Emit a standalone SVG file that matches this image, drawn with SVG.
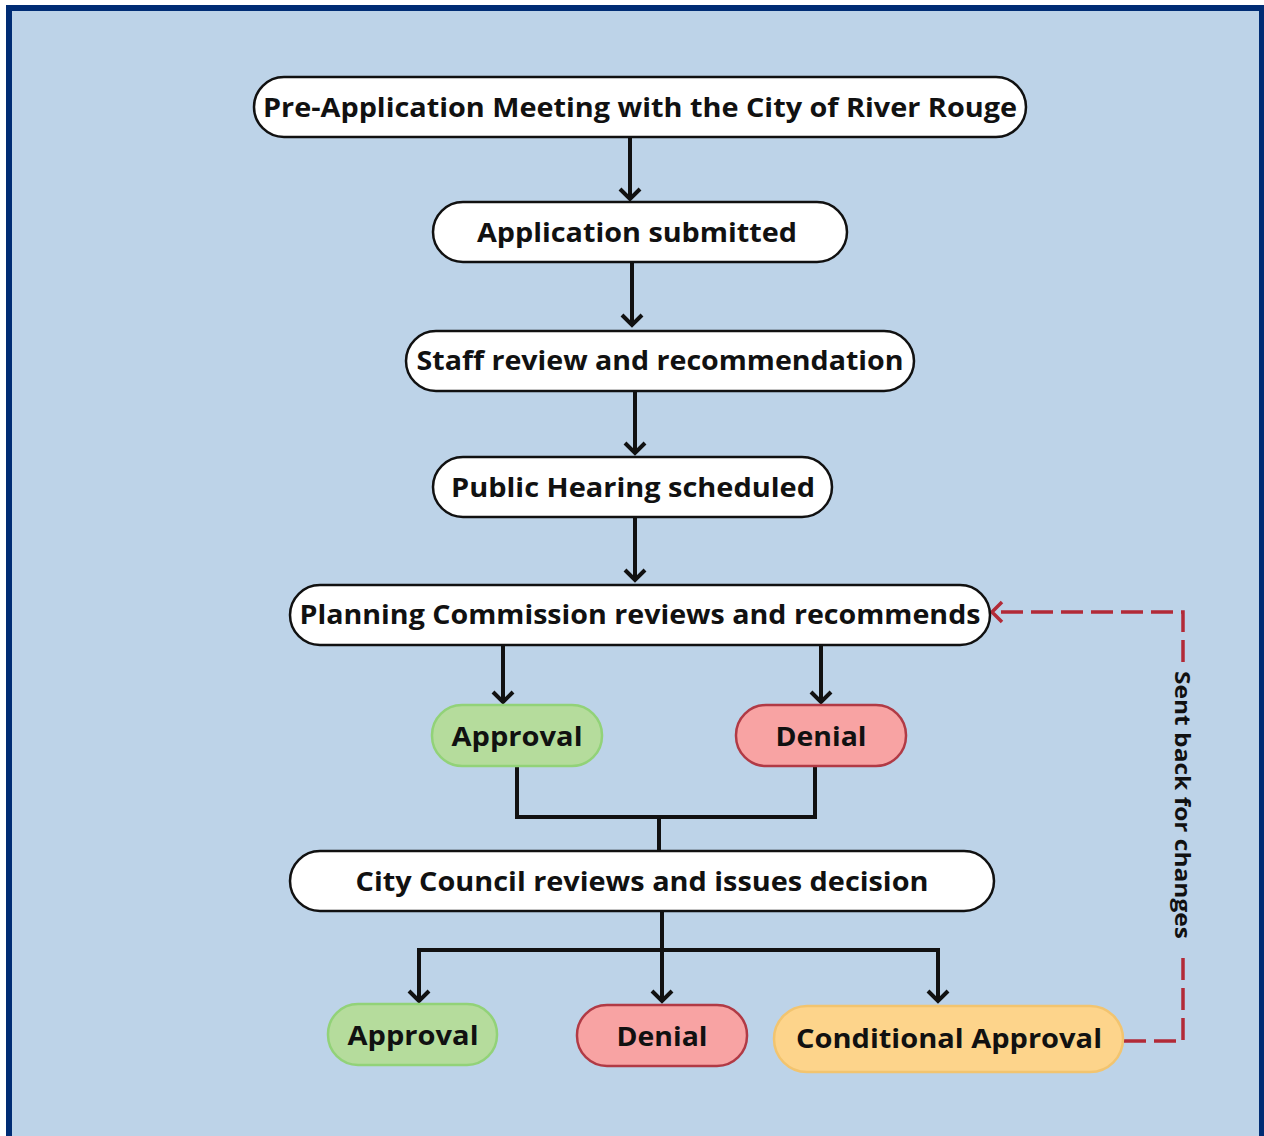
<svg xmlns="http://www.w3.org/2000/svg" width="1264" height="1136" viewBox="0 0 1264 1136">
  <style>
    .pill { fill: #ffffff; stroke: #111111; stroke-width: 2.5; }
    .ok { fill: #b5dc9c; stroke: #92d278; stroke-width: 2.5; }
    .no { fill: #f8a3a3; stroke: #b13a45; stroke-width: 2.5; }
    .cond { fill: #fdd48b; stroke: #f2c46f; stroke-width: 2.5; }
    .lbl { font-family: "Open Sans", "Liberation Sans", sans-serif; font-weight: 700; font-size: 27px; fill: #111111; text-anchor: middle; }
    .side { font-family: "Open Sans", "Liberation Sans", sans-serif; font-weight: 700; font-size: 22px; fill: #111111; text-anchor: middle; }
    .flow { fill: none; stroke: #111111; stroke-width: 4; }
    .back { fill: none; stroke: #b22a37; stroke-width: 3.5; stroke-dasharray: 22 8; }
  </style>
  <defs>
    <marker id="arrow" markerUnits="userSpaceOnUse" markerWidth="24" markerHeight="24" viewBox="0 0 24 24" refX="19" refY="12" orient="auto">
      <path d="M9,2 L19,12 L9,22" fill="none" stroke="#111111" stroke-width="4"/>
    </marker>
    <marker id="arrowRed" markerUnits="userSpaceOnUse" markerWidth="24" markerHeight="24" viewBox="0 0 24 24" refX="19" refY="12" orient="auto">
      <path d="M9,2 L19,12 L9,22" fill="none" stroke="#b22a37" stroke-width="3.5"/>
    </marker>
  </defs>

  <!-- page and frame -->
  <rect x="0" y="0" width="1264" height="1136" fill="#ffffff"/>
  <rect x="6" y="5" width="1258" height="1131" fill="#002c74"/>
  <rect x="12" y="11" width="1247" height="1125" fill="#bdd3e8"/>

  <!-- connectors -->
  <g id="connectors">
    <line class="flow" x1="630" y1="138" x2="630" y2="199" marker-end="url(#arrow)"/>
    <line class="flow" x1="632" y1="263" x2="632" y2="325" marker-end="url(#arrow)"/>
    <line class="flow" x1="635" y1="392" x2="635" y2="453" marker-end="url(#arrow)"/>
    <line class="flow" x1="635" y1="518" x2="635" y2="580" marker-end="url(#arrow)"/>
    <line class="flow" x1="503" y1="646" x2="503" y2="702" marker-end="url(#arrow)"/>
    <line class="flow" x1="821" y1="646" x2="821" y2="702" marker-end="url(#arrow)"/>
    <path class="flow" d="M517,767 V817 H815 V767"/>
    <line class="flow" x1="659" y1="817" x2="659" y2="851"/>
    <line class="flow" x1="662" y1="912" x2="662" y2="1001" marker-end="url(#arrow)"/>
    <path class="flow" d="M419,950 H938 V1001" marker-end="url(#arrow)"/>
    <line class="flow" x1="419" y1="948" x2="419" y2="1001" marker-end="url(#arrow)"/>
    <path class="back" d="M1124,1041 H1183 V952"/>
    <path class="back" d="M1183,662 V612 H992" marker-end="url(#arrowRed)"/>
    <text class="side" transform="translate(1175,805) rotate(90)" textLength="268" lengthAdjust="spacingAndGlyphs">Sent back for changes</text>
  </g>

  <g id="pre-application">
    <rect class="pill" x="254" y="77" width="772" height="60" rx="30"/>
    <text class="lbl" x="640" y="117" textLength="754" lengthAdjust="spacingAndGlyphs">Pre-Application Meeting with the City of River Rouge</text>
  </g>
  <g id="application-submitted">
    <rect class="pill" x="433" y="202" width="414" height="60" rx="30"/>
    <text class="lbl" x="637" y="242" textLength="320" lengthAdjust="spacingAndGlyphs">Application submitted</text>
  </g>
  <g id="staff-review">
    <rect class="pill" x="406" y="331" width="508" height="60" rx="30"/>
    <text class="lbl" x="660" y="370" textLength="487" lengthAdjust="spacingAndGlyphs">Staff review and recommendation</text>
  </g>
  <g id="public-hearing">
    <rect class="pill" x="433" y="457" width="399" height="60" rx="30"/>
    <text class="lbl" x="633" y="497" textLength="364" lengthAdjust="spacingAndGlyphs">Public Hearing scheduled</text>
  </g>
  <g id="planning-commission">
    <rect class="pill" x="290" y="585" width="700" height="60" rx="30"/>
    <text class="lbl" x="640" y="624" textLength="681" lengthAdjust="spacingAndGlyphs">Planning Commission reviews and recommends</text>
  </g>
  <g id="pc-approval">
    <rect class="ok" x="432" y="705" width="170" height="61" rx="30"/>
    <text class="lbl" x="517" y="746" textLength="131" lengthAdjust="spacingAndGlyphs">Approval</text>
  </g>
  <g id="pc-denial">
    <rect class="no" x="736" y="705" width="170" height="61" rx="30"/>
    <text class="lbl" x="821" y="746" textLength="91" lengthAdjust="spacingAndGlyphs">Denial</text>
  </g>
  <g id="city-council">
    <rect class="pill" x="290" y="851" width="704" height="60" rx="30"/>
    <text class="lbl" x="642" y="891" textLength="573" lengthAdjust="spacingAndGlyphs">City Council reviews and issues decision</text>
  </g>
  <g id="cc-approval">
    <rect class="ok" x="328" y="1004" width="169" height="61" rx="30"/>
    <text class="lbl" x="413" y="1045" textLength="131" lengthAdjust="spacingAndGlyphs">Approval</text>
  </g>
  <g id="cc-denial">
    <rect class="no" x="577" y="1005" width="170" height="61" rx="30"/>
    <text class="lbl" x="662" y="1046" textLength="91" lengthAdjust="spacingAndGlyphs">Denial</text>
  </g>
  <g id="cc-conditional">
    <rect class="cond" x="774" y="1006" width="349" height="66" rx="33"/>
    <text class="lbl" x="949" y="1048" textLength="306" lengthAdjust="spacingAndGlyphs">Conditional Approval</text>
  </g>
</svg>
